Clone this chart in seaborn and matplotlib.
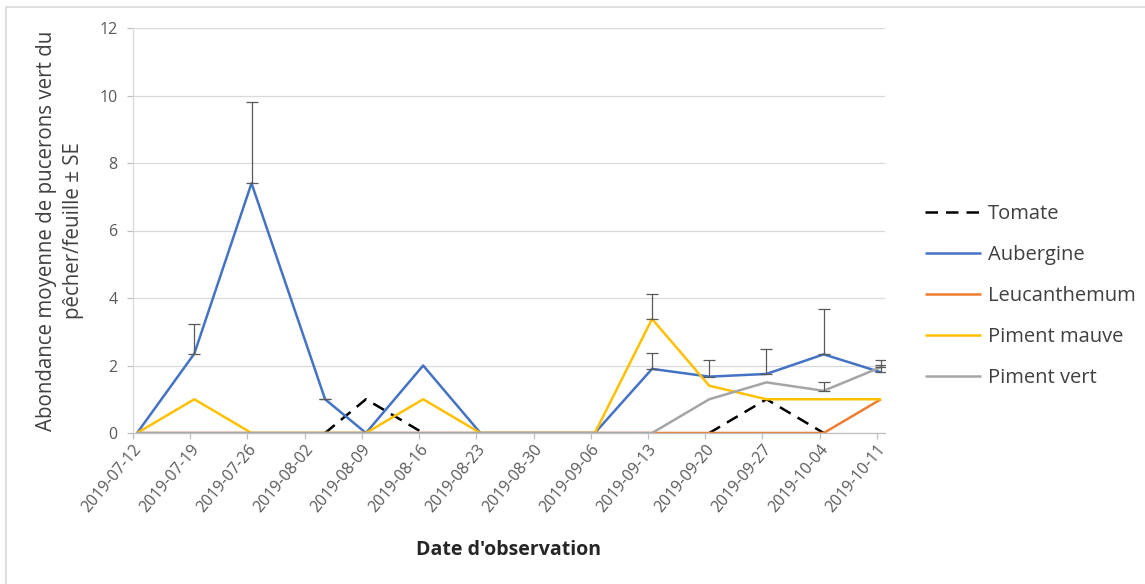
import datetime as dt

import matplotlib
matplotlib.use("Agg")
import matplotlib.pyplot as plt
from matplotlib.lines import Line2D
import numpy as np
import seaborn as sns

# Observation dates and mean aphid counts per leaf (± SE) for each plant
dates = ["2019-07-12", "2019-07-19", "2019-07-26", "2019-08-04", "2019-08-09",
         "2019-08-16", "2019-08-23", "2019-08-30", "2019-09-06", "2019-09-13",
         "2019-09-20", "2019-09-27", "2019-10-04", "2019-10-11"]

nan = np.nan
tomate = [nan, nan, nan, 0, 1, 0, nan, nan, nan, nan, 0, 1, 0, nan]
aubergine = [0, 2.35, 7.4, 1, 0, 2, 0, 0, 0, 1.9, 1.67, 1.75, 2.33, 1.8]
leucanthemum = [0, 0, 0, 0, 0, 0, 0, 0, 0, 0, 0, 0, 0, 1]
piment_mauve = [0, 1, 0, 0, 0, 1, 0, 0, 0, 3.38, 1.4, 1, 1, 1]
piment_vert = [0, 0, 0, 0, 0, 0, 0, 0, 0, 0, 1, 1.5, 1.25, 1.95]

# standard errors (NaN = no error bar drawn)
aubergine_se = [nan, 0.87, 2.42, 0, nan, nan, nan, nan, nan, 0.47, 0.5, 0.74, 1.34, 0.36]
piment_mauve_se = [nan, nan, nan, nan, nan, nan, nan, nan, nan, 0.75, nan, nan, nan, nan]
piment_vert_se = [nan, nan, nan, nan, nan, nan, nan, nan, nan, nan, nan, nan, 0.25, 0.07]

tick_dates = ["2019-07-12", "2019-07-19", "2019-07-26", "2019-08-02", "2019-08-09",
              "2019-08-16", "2019-08-23", "2019-08-30", "2019-09-06", "2019-09-13",
              "2019-09-20", "2019-09-27", "2019-10-04", "2019-10-11"]

series = [
    ("Tomate", tomate, None, "#000000", True),
    ("Aubergine", aubergine, aubergine_se, "#4472C4", False),
    ("Leucanthemum", leucanthemum, None, "#ED7D31", False),
    ("Piment mauve", piment_mauve, piment_mauve_se, "#FFC000", False),
    ("Piment vert", piment_vert, piment_vert_se, "#A5A5A5", False),
]

sns.set_theme(style="white")
plt.rcParams["font.family"] = ["Open Sans", "DejaVu Sans"]

origin = dt.date(2019, 7, 12)


def day_of(s):
    return (dt.date.fromisoformat(s) - origin).days


# points sit in the middle of their day slot on the date axis
x = np.array([day_of(d) + 0.5 for d in dates])
ticks = [day_of(d) for d in tick_dates]


def runs(values):
    """Split a series into contiguous stretches without missing values."""
    v = np.array(values, dtype=float)
    ok = ~np.isnan(v)
    out, start = [], None
    for i, flag in enumerate(ok):
        if flag and start is None:
            start = i
        if not flag and start is not None:
            out.append(slice(start, i))
            start = None
    if start is not None:
        out.append(slice(start, len(v)))
    return v, out


fig = plt.figure(figsize=(11.45, 5.84), dpi=100)
ax = fig.add_axes([133 / 1145, 151 / 584, 752 / 1145, 405 / 584])

for name, vals, se, color, dashed in series:
    v, segs = runs(vals)
    for k, sl in enumerate(segs):
        sns.lineplot(x=x[sl], y=v[sl], ax=ax, color=color, lw=1.8,
                     label=name if k == 0 else "_nolegend_",
                     estimator=None, sort=False)
        line = ax.lines[-1]
        line.set_solid_capstyle("butt")
        if dashed:
            line.set_dashes([5, 3.2])

for name, vals, se, color, dashed in series:
    if se is None:
        continue
    se = np.array(se, dtype=float)
    vals = np.array(vals, dtype=float)
    m = ~np.isnan(se)
    ax.errorbar(x[m], vals[m], yerr=[np.zeros(m.sum()), se[m]], fmt="none",
                ecolor="#595959", elinewidth=0.9, capsize=4, capthick=0.9,
                zorder=5, label="_nolegend_")

ax.set_xlim(0, 92)
ax.set_ylim(0, 12)
ax.set_yticks(range(0, 13, 2))
ax.set_xticks(ticks)
ax.set_xticklabels(tick_dates, rotation=50, ha="right", rotation_mode="anchor")

ax.grid(axis="y", color="#D9D9D9", lw=0.9)
ax.grid(axis="x", visible=False)
ax.set_axisbelow(True)
for side in ("top", "right"):
    ax.spines[side].set_visible(False)
ax.spines["left"].set_color("#D9D9D9")
ax.spines["bottom"].set_color("#BFBFBF")
ax.spines["left"].set_linewidth(0.9)
ax.spines["bottom"].set_linewidth(0.9)
ax.tick_params(axis="both", which="major", length=4, width=0.9, color="#BFBFBF",
               labelcolor="#595959", labelsize=11.5, bottom=True, left=True)
ax.tick_params(axis="y", pad=7)
ax.tick_params(axis="x", pad=2)

ax.set_ylabel("Abondance moyenne de pucerons vert du\npêcher/feuille ± SE",
              fontsize=14.8, color="#404040", linespacing=1.4)
ax.yaxis.label.set_va("center")
ax.yaxis.set_label_coords(-0.097, 0.5)

ax.set_xlabel("Date d'observation", fontsize=14, fontweight="bold", color="#262626")
ax.xaxis.label.set_va("center")
ax.xaxis.set_label_coords(0.5, -0.29)

handles, labels = ax.get_legend_handles_labels()
ax.legend(handles, labels, loc="center left", bbox_to_anchor=(915 / 1145, 1 - 296 / 584),
          bbox_transform=fig.transFigure, frameon=False, fontsize=14.5,
          handlelength=2.8, handletextpad=0.3, labelspacing=1.05, borderpad=0,
          labelcolor="#404040")

# light frame around the chart area
fig.add_artist(Line2D([6 / 1145, 6 / 1145, 1.0], [0.0, 1 - 7 / 584, 1 - 7 / 584],
                      transform=fig.transFigure, color="#D9D9D9", lw=1.2))

fig.savefig("out.png", dpi=100)
